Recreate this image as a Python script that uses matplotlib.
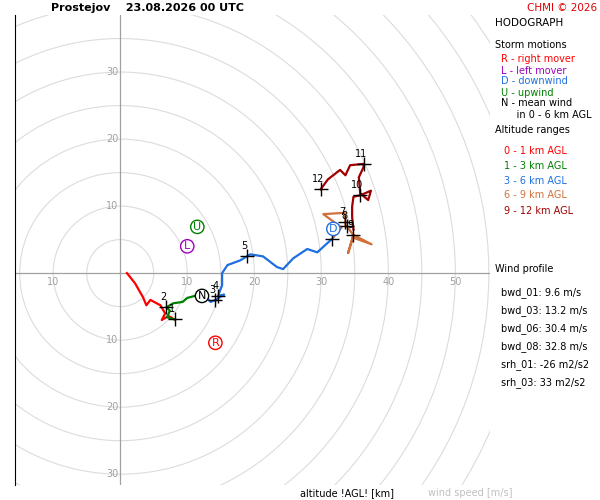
"""Hodograph chart for one sounding: wind profile by altitude layer, storm motions and
shear/helicity summary. Writes out.png.

    python3 plot.py
"""

from __future__ import annotations

import sys

import matplotlib.pyplot as plt
import numpy as np

STATION = "Prostejov"
TIME = "23.08.2026 00 UTC"

# hodograph trace per layer, (u, v) in m/s
LAYERS = {
    "0 - 1 km AGL": ("#ff0000", [(1, 0), (2.2, -1.5), (3.4, -3.6), (3.9, -4.8), (4.5, -4.0), (6.0, -4.8),
                                 (6.7, -6.0), (6.2, -7.0), (7.2, -6.4), (8.1, -6.9)]),
    "1 - 3 km AGL": ("#008000", [(8.1, -6.9), (7.0, -6.6), (7.4, -5.6), (6.9, -5.1), (7.9, -4.5), (9.3, -4.3),
                                 (10.0, -3.7), (11.5, -3.3), (12.6, -3.4)]),
    "3 - 6 km AGL": ("#1e6fe0", [(12.6, -3.4), (13.5, -4.3), (14.2, -4.0), (15.5, -3.2), (14.6, -3.4),
                                 (15.2, -1.8), (15.2, 0.0), (16.0, 1.2), (17.9, 1.9), (18.9, 2.5),
                                 (19.4, 2.8), (21.3, 2.5), (23.4, 0.9), (24.3, 0.6), (25.8, 2.2),
                                 (27.9, 3.6), (29.4, 3.1), (30.6, 4.2), (31.6, 5.1)]),
    "6 - 9 km AGL": ("#d2703a", [(31.6, 5.1), (33.0, 6.8), (30.3, 8.8), (33.5, 9.0), (33.6, 7.2),
                                 (34.8, 5.7), (34.0, 3.0), (34.8, 5.7), (37.5, 4.3), (35.0, 5.2)]),
    "9 - 12 km AGL": ("#a00000", [(34.8, 6.5), (34.6, 8.4), (34.6, 9.9), (34.8, 11.4), (35.8, 11.6),
                                  (37.4, 12.3), (37.0, 10.9), (35.8, 11.9), (35.6, 14.3), (36.3, 15.8),
                                  (36.3, 16.3), (34.3, 16.1), (33.6, 14.6), (32.8, 15.4), (31.0, 14.0),
                                  (29.9, 12.5)]),
}
HEIGHTS = {1: (8.1, -6.9), 2: (6.9, -5.1), 3: (14.2, -4.0), 4: (14.6, -3.4), 5: (18.9, 2.5), 6: (31.6, 5.1),
           7: (33.6, 7.6), 8: (33.8, 7.0), 9: (34.8, 5.7), 10: (35.8, 11.6), 11: (36.3, 16.3), 12: (29.9, 12.5)}
MOTIONS = {"R": ((14.2, -10.4), "#ff0000"), "L": ((10.0, 4.0), "#a000c0"), "U": ((11.5, 6.9), "#008000"),
           "D": ((31.8, 6.6), "#1e6fe0"), "N": ((12.2, -3.4), "black")}
PROFILE = {"bwd_01": "9.6 m/s", "bwd_03": "13.2 m/s", "bwd_06": "30.4 m/s", "bwd_08": "32.8 m/s"}
HELICITY = {"srh_01": "-26 m2/s2", "srh_03": "33 m2/s2"}


def draw_grid(ax) -> None:
    for r in np.arange(5, 80, 5):
        ax.add_patch(plt.Circle((0, 0), r, fill=False, color="#dcdcdc", linewidth=0.8, zorder=0))
    ax.axhline(0, color="#a0a0a0", linewidth=0.9, zorder=0)
    ax.axvline(0, color="#a0a0a0", linewidth=0.9, zorder=0)
    for v in (-10, 10, 20, 30, 40, 50):
        ax.text(v, -1.3, f"{abs(v)}", ha="center", va="center", fontsize=7, color="#a0a0a0")
    for v in (-30, -20, -10, 10, 20, 30):
        ax.text(-0.3, v, f"{abs(v)}", ha="right", va="center", fontsize=7, color="#a0a0a0")


def draw_panel(fig) -> None:
    x = 0.825
    fig.text(x, 0.948, "HODOGRAPH", fontsize=7.5)
    fig.text(x, 0.905, "Storm motions", fontsize=7)
    rows = [("R - right mover", "#ff0000"), ("L - left mover", "#a000c0"), ("D - downwind", "#1e6fe0"),
            ("U - upwind", "#008000"), ("N - mean wind", "black"), ("     in 0 - 6 km AGL", "black")]
    for i, (t, c) in enumerate(rows):
        fig.text(x + 0.01, 0.875 - i * 0.022, t, fontsize=7, color=c)
    fig.text(x, 0.734, "Altitude ranges", fontsize=7)
    for i, (name, (c, _)) in enumerate(LAYERS.items()):
        fig.text(x + 0.015, 0.693 - i * 0.03, name, fontsize=7, color=c)
    fig.text(x, 0.455, "Wind profile", fontsize=7)
    for i, (k, v) in enumerate(PROFILE.items()):
        fig.text(x + 0.01, 0.41 - i * 0.036, f"{k}: {v}", fontsize=7)
    for i, (k, v) in enumerate(HELICITY.items()):
        fig.text(x + 0.01, 0.265 - i * 0.036, f"{k}: {v}", fontsize=7)


def main() -> int:
    fig = plt.figure(figsize=(6, 5), dpi=100)
    ax = fig.add_axes([0.025, 0.03, 0.792, 0.94])
    ax.set_xlim(-15.7, 55.2)
    ax.set_ylim(-31.6, 38.5)
    ax.set_aspect("equal", adjustable="box")
    for s in ("top", "right", "bottom"):
        ax.spines[s].set_visible(False)
    ax.set_xticks([])
    ax.set_yticks([])
    draw_grid(ax)
    for c, pts in LAYERS.values():
        u, v = zip(*pts)
        ax.plot(u, v, color=c, linewidth=1.6, zorder=2)
    for h, (u, v) in HEIGHTS.items():
        ax.plot(u, v, marker="+", color="black", markersize=10, markeredgewidth=1, zorder=3)
        ax.annotate(str(h), (u, v), xytext=(-2, 5), textcoords="offset points", fontsize=7, ha="center")
    for m, ((u, v), c) in MOTIONS.items():
        ax.text(u, v, m, ha="center", va="center", fontsize=8, color=c, zorder=4,
                bbox=dict(boxstyle="circle,pad=0.15", fc="white", ec=c, lw=1))
    draw_panel(fig)
    fig.text(0.085, 0.978, f"{STATION}    {TIME}", fontsize=8, fontweight="bold")
    fig.text(0.995, 0.978, "CHMI © 2026", fontsize=7.5, color="#e00000", ha="right")
    fig.text(0.5, 0.008, "altitude !AGL! [km]", fontsize=7)
    fig.text(0.713, 0.008, "wind speed [m/s]", fontsize=7, color="#c0c0c0")
    fig.savefig("out.png", dpi=100)
    plt.close(fig)
    return 0


if __name__ == "__main__":
    sys.exit(main())
